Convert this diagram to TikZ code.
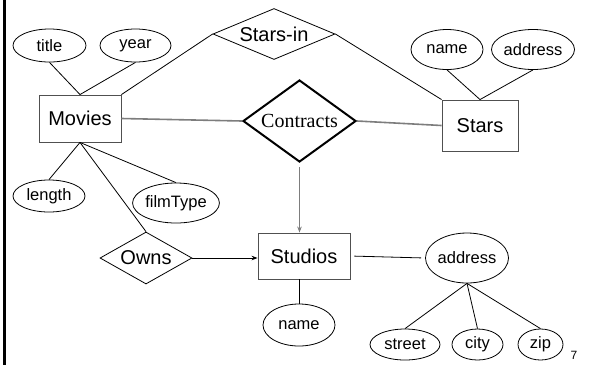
\documentclass[tikz,border=0pt]{standalone}
\usepackage{fontspec}
\setmainfont{Liberation Sans}
\newfontfamily\seriffont{Liberation Serif}
\usepackage{tikz}
\usetikzlibrary{shapes.geometric, arrows.meta, positioning}
\definecolor{boxline}{RGB}{80,80,80}
\definecolor{relline}{RGB}{125,125,125}

\begin{document}
\begin{tikzpicture}[
    x=1pt, y=-1pt,
    entity/.style={draw=boxline, line width=0.9pt, inner sep=0pt, font=\fontsize{20}{24}\selectfont},
    attr/.style={draw, ellipse, line width=0.8pt, inner sep=0pt, minimum width=72pt, font=\fontsize{16.5}{20}\selectfont},
    relation/.style={draw, diamond, line width=0.8pt, inner sep=0pt, font=\fontsize{20}{24}\selectfont},
    link/.style={line width=0.8pt},
    heavy/.style={draw=relline, line width=1.6pt},
    arrow/.style={-{Stealth[length=6pt, width=4.5pt]}, line width=0.8pt}
]
    \useasboundingbox (0,0) rectangle (609,365);
    \draw[line width=3pt] (4.5,0) -- (4.5,365);

    % Entity sets
    \node[entity, minimum width=82pt, minimum height=47pt] (movies) at (80,118.5) {Movies};
    \node[entity, minimum width=76pt, minimum height=51pt] (stars) at (480,125.5) {Stars};
    \node[entity, minimum width=92pt, minimum height=46pt] (studios) at (304,256) {Studios};

    % Relationships
    \node[relation, aspect=2.4, minimum width=122pt, minimum height=51pt] (starsin) at (274,34) {Stars-in};
    \node[relation, aspect=1.38, line width=2pt, minimum width=113pt, minimum height=82pt, font=\fontsize{20}{24}\seriffont] (contracts) at (299.5,121) {Contracts};
    \node[relation, aspect=1.77, minimum width=92pt, minimum height=52pt] (owns) at (146,258) {Owns};

    % Attributes of Movies
    \node[attr, minimum width=73pt, minimum height=33pt] (title) at (49.5,45.5) {title};
    \node[attr, minimum width=71pt, minimum height=33pt] (year) at (135.5,45.5) {year};
    \node[attr, minimum height=32pt] (length) at (49,196) {length};
    \node[attr, minimum height=40pt] (filmtype) at (176,203) {filmType};

    % Attributes of Stars
    \node[attr, minimum height=40pt] (starname) at (447,49.5) {name};
    \node[attr, minimum height=40pt] (staraddr) at (533,49.5) {address};

    % Attributes of Studios
    \node[attr, minimum height=42pt] (studioname) at (299,325) {name};
    \node[attr, minimum height=50pt] (studioaddr) at (467,258) {address};
    \node[attr, minimum width=70pt, minimum height=31pt] (street) at (405,344.5) {street};
    \node[attr, minimum width=51pt, minimum height=31pt] (city) at (477.5,344.5) {city};
    \node[attr, minimum width=45pt, minimum height=31pt] (zip) at (540.5,344.5) {zip};

    \node[font=\fontsize{12}{14}\selectfont] (page) at (574,355) {7};

    % Connections
    \draw[link] (title.south) -- (movies.north);
    \draw[link] (year.south) -- (movies.north);
    \draw[link] (starsin.west) -- (movies.north east);
    \draw[link] (starsin.east) -- (stars.north west);
    \draw[link] (starname.south) -- (stars.north);
    \draw[link] (staraddr.south) -- (stars.north);
    \draw[link] (movies.south) -- (length.north);
    \draw[link] (movies.south) -- (filmtype.north);
    \draw[link] (movies.south) -- (owns.north);
    \draw[heavy] (movies.east) -- (contracts.west);
    \draw[heavy] (contracts.east) -- (stars.west);
    \draw[arrow, draw=relline, shorten <=4pt] (contracts.south) -- (studios.north -| contracts.south);
    \draw[arrow] (owns.east) -- (studios.west |- owns.east);
    \draw[link, shorten <=4pt, shorten >=4pt] (studios.east) -- (studioaddr.west);
    \draw[link] (studioname.north |- studios.south) -- (studioname.north);
    \draw[link] (studioaddr.south) -- (street.north);
    \draw[link] (studioaddr.south) -- (city.north);
    \draw[link] (studioaddr.south) -- (zip.north);
\end{tikzpicture}
\end{document}
